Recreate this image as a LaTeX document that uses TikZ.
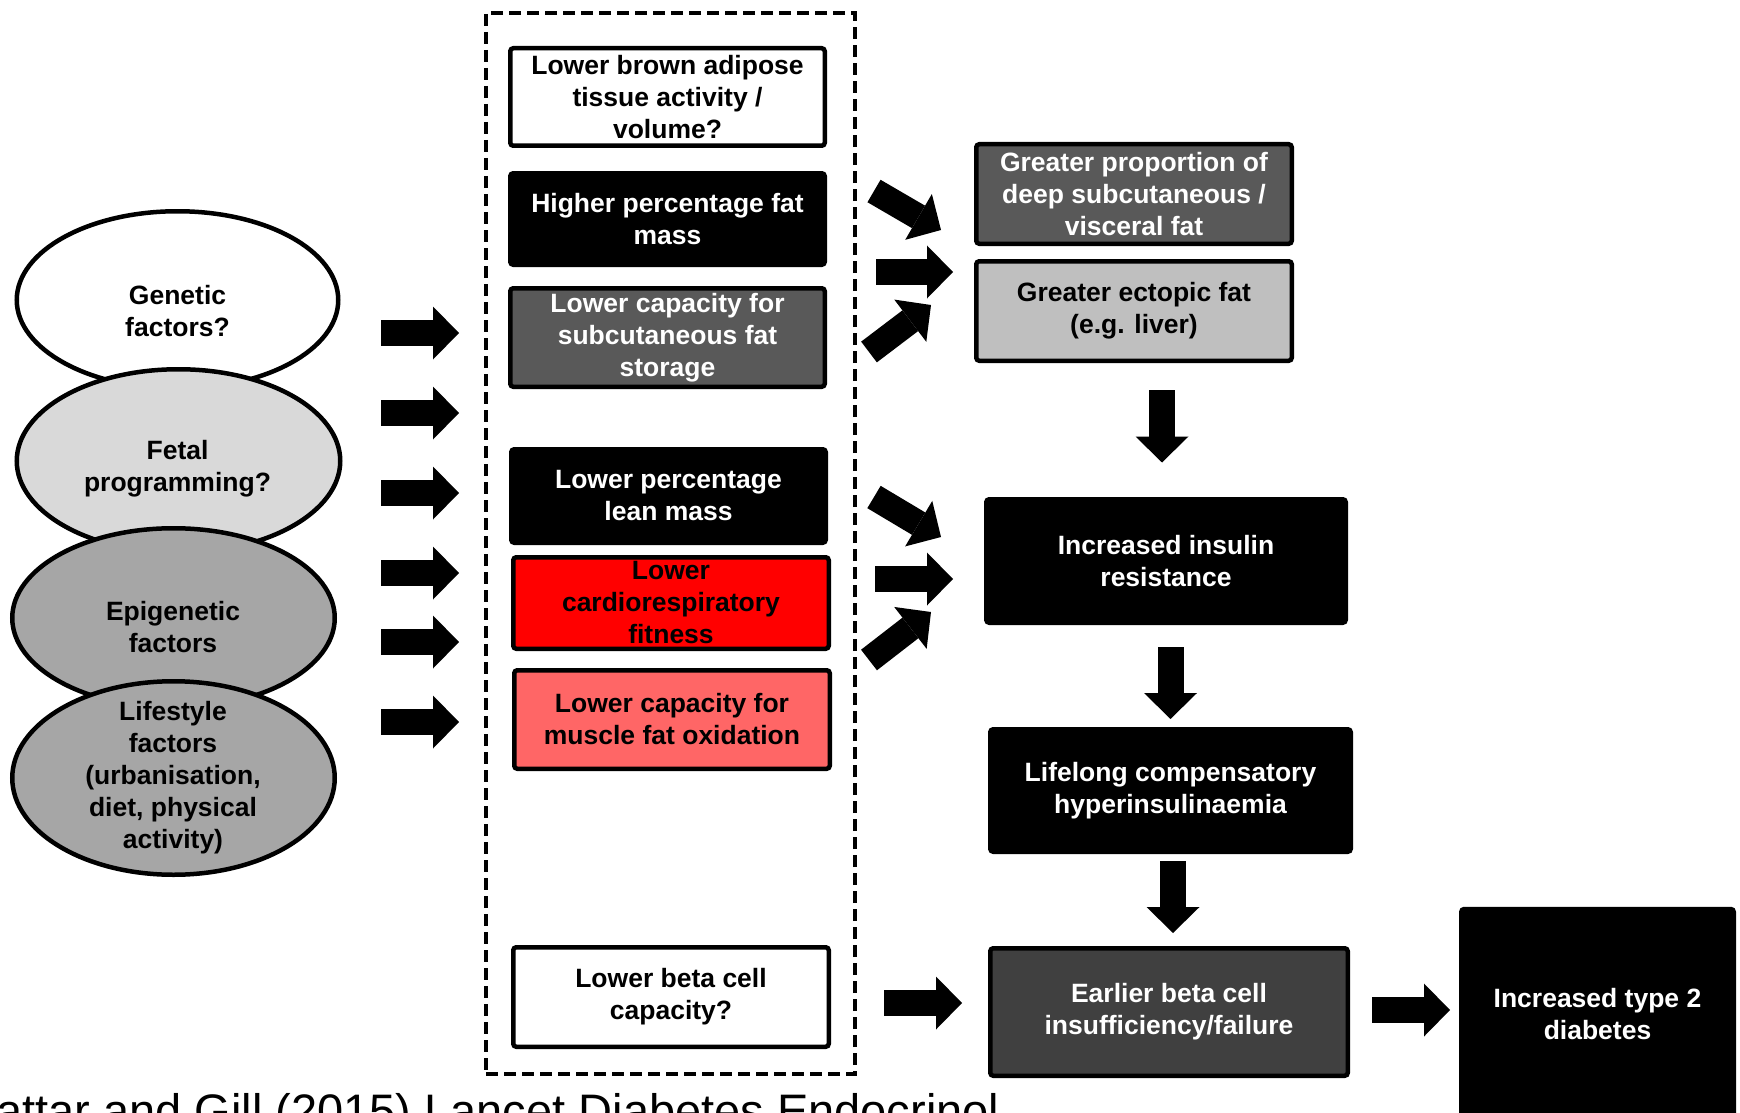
\documentclass[tikz,border=0pt]{standalone}
\usepackage{fontspec}
\setmainfont{Liberation Sans}
\usetikzlibrary{arrows.meta,shapes.geometric}
\definecolor{dgrey}{HTML}{595959}
\definecolor{lgrey}{HTML}{BFBFBF}
\definecolor{egrey}{HTML}{404040}
\definecolor{fetalc}{HTML}{D9D9D9}
\definecolor{epic}{HTML}{A6A6A6}
\definecolor{lightred}{HTML}{FF6666}
\newcommand\boxfont{\fontsize{26.5pt}{32pt}\selectfont\bfseries}
\begin{document}
\begin{tikzpicture}[x=1pt,y=-1pt,
  box/.style={draw=black, line width=4.5pt, rounded corners=3pt, align=center, font=\boxfont, inner sep=0pt},
  ell/.style={ellipse, draw=black, line width=4.5pt, inner sep=0pt},
  etext/.style={align=center, font=\boxfont, inner sep=0pt},
  barrow/.style={draw=black, line width=26pt, -{Triangle[length=26pt,width=53pt,line width=0pt]}},
  group/.style={draw=black, line width=4.5pt, dash pattern=on 12pt off 6pt, inner sep=0pt},
]
\fill[white] (0,0) rectangle (1740,1113);
\useasboundingbox (0,0) rectangle (1740,1113);

% left ellipses
\node[ell, fill=white, minimum width=321.5pt, minimum height=177.5pt] (gen) at (177.5,300) {};
\node[etext] (gent) at (177.5,311) {Genetic\\factors?};
\node[ell, fill=fetalc, minimum width=323.5pt, minimum height=183.5pt] (fet) at (178.5,461) {};
\node[etext] (fett) at (177.5,469) {Fetal\\programming?};
\node[ell, fill=epic, minimum width=322.5pt, minimum height=179.5pt] (epi) at (173.5,618) {};
\node[etext] (epit) at (173,627.5) {Epigenetic\\factors};
\node[ell, fill=epic, minimum width=322.5pt, minimum height=193.5pt] (life) at (173.5,778) {};
\node[etext] (lifet) at (173,777.5) {Lifestyle\\factors\\(urbanisation,\\diet, physical\\activity)};

% dashed group
\node[group, minimum width=369pt, minimum height=1061pt] (grp) at (670.5,543.5) {};

% middle boxes
\node[box, fill=white, text=black, minimum width=314.5pt, minimum height=97.5pt] (brown) at (667.5,97) {Lower brown adipose\\tissue activity /\\volume?};
\node[box, fill=black, text=white, minimum width=314.5pt, minimum height=91.5pt] (fatm) at (667.5,219) {Higher percentage fat\\mass};
\node[box, fill=dgrey, text=white, minimum width=314.5pt, minimum height=98.5pt] (subc) at (667.5,337.5) {Lower capacity for\\subcutaneous fat\\storage};
\node[box, fill=black, text=white, minimum width=314.5pt, minimum height=93.5pt] (lean) at (668.5,496) {Lower percentage\\lean mass};
\node[box, fill=red, text=black, minimum width=315.5pt, minimum height=91.5pt] (cardio) at (671,603) {Lower\\cardiorespiratory\\fitness};
\node[box, fill=lightred, text=black, minimum width=315.5pt, minimum height=98.5pt] (musc) at (672,719.5) {Lower capacity for\\muscle fat oxidation};
\node[box, fill=white, text=black, minimum width=315.5pt, minimum height=99.5pt] (beta) at (671,997) {Lower beta cell\\capacity?};

% right boxes
\node[box, fill=dgrey, text=white, minimum width=315.5pt, minimum height=99.5pt] (prop) at (1134,194) {Greater proportion of\\deep subcutaneous /\\visceral fat};
\node[box, fill=lgrey, text=black, minimum width=315.5pt, minimum height=99.5pt] (ecto) at (1134,311) {Greater ectopic fat\\(e.g. liver)};
\node[box, fill=black, text=white, minimum width=359.5pt, minimum height=123.5pt] (insr) at (1166,561) {Increased insulin\\resistance};
\node[box, fill=black, text=white, minimum width=360.5pt, minimum height=122.5pt] (hyper) at (1170.5,790.5) {Lifelong compensatory\\hyperinsulinaemia};
\node[box, fill=egrey, text=white, minimum width=357.5pt, minimum height=127.5pt] (fail) at (1169,1012) {Earlier beta cell\\insufficiency/failure};
\node[box, fill=black, text=white, minimum width=272.5pt, minimum height=210pt] (t2d) at (1597.5,1014) {Increased type 2\\diabetes};

% left block arrows
\foreach \i/\y in {1/333,2/413,3/493,4/573,5/642,6/722} {
  \coordinate (ls\i) at (381,\y);
  \coordinate (le\i) at (459,\y);
  \draw[barrow] (ls\i) -- (le\i);
}

% arrows to fat depots
\coordinate (a1s) at (874,191); \coordinate (a1e) at (941,230);
\coordinate (a2s) at (876,272); \coordinate (a2e) at (953,272);
\coordinate (a3s) at (869,352); \coordinate (a3e) at (931,305);
\draw[barrow] (a1s) -- (a1e);
\draw[barrow] (a2s) -- (a2e);
\draw[barrow] (a3s) -- (a3e);

% arrows to insulin resistance
\coordinate (b1s) at (874,497); \coordinate (b1e) at (941,537);
\coordinate (b2s) at (875,579); \coordinate (b2e) at (953,579);
\coordinate (b3s) at (869,660); \coordinate (b3e) at (931,612);
\draw[barrow] (b1s) -- (b1e);
\draw[barrow] (b2s) -- (b2e);
\draw[barrow] (b3s) -- (b3e);

% vertical arrows
\coordinate (d1s) at (1162,390); \coordinate (d1e) at (1162,462.5);
\coordinate (d2s) at (1170.5,647); \coordinate (d2e) at (1170.5,719);
\coordinate (d3s) at (1173,861); \coordinate (d3e) at (1173,933);
\draw[barrow] (d1s) -- (d1e);
\draw[barrow] (d2s) -- (d2e);
\draw[barrow] (d3s) -- (d3e);

% bottom arrows
\coordinate (e1s) at (884,1003); \coordinate (e1e) at (962,1003);
\coordinate (e2s) at (1372,1010); \coordinate (e2e) at (1450,1010);
\draw[barrow] (e1s) -- (e1e);
\draw[barrow] (e2s) -- (e2e);

% citation
\node[anchor=base west, inner sep=0pt, font=\fontsize{47pt}{56pt}\selectfont] (cite) at (-4,1127) {attar and Gill (2015) Lancet Diabetes Endocrinol};
\end{tikzpicture}
\end{document}
